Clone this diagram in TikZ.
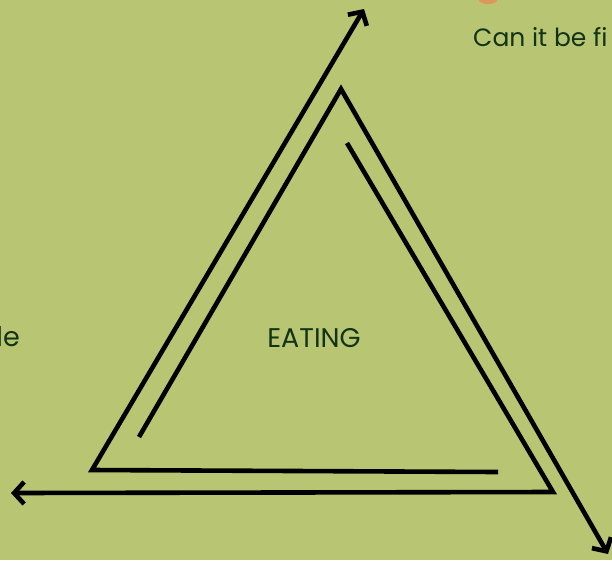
\documentclass[tikz,border=0pt]{standalone}
\usepackage{fontspec}
\setmainfont{Poppins}
\usetikzlibrary{arrows.meta}
\definecolor{bg}{RGB}{184,197,114}
\definecolor{txt}{RGB}{18,52,20}
\definecolor{blob}{RGB}{222,150,90}
\begin{document}
\begin{tikzpicture}[x=1pt,y=-1pt,
  cyc/.style={line width=4.6pt, line join=miter, -{Straight Barb[length=10pt,width=22pt,line width=4.6pt]}},
  lbl/.style={text=txt, font=\fontsize{27}{32}\selectfont, inner sep=0pt}]
\fill[bg] (0,0) rectangle (612,560);
\useasboundingbox (0,0) rectangle (612,560);
\begin{scope}
\clip (0,0) rectangle (612,560);
\fill[blob] (488,0) ellipse (9pt and 4pt);
\end{scope}
% corner coordinates
\coordinate (a0) at (139,437);
\coordinate (apex) at (341,89);
\coordinate (a1) at (608,554);
\coordinate (b0) at (347,143);
\coordinate (br) at (553,492);
\coordinate (b1) at (11,493);
\coordinate (c0) at (498,472);
\coordinate (bl) at (92,470);
\coordinate (c1) at (364,9);
\draw[cyc] (a0) -- (apex) -- (a1);
\draw[cyc] (b0) -- (br) -- (b1);
\draw[cyc] (c0) -- (bl) -- (c1);
\node[lbl, anchor=base] (eat) at (314,347) {EATING};
\node[lbl, anchor=base west, font=\fontsize{25}{30}\selectfont] (can) at (473,46) {Can it be fi};
\node[lbl, anchor=base east] (le) at (20,346) {le};
\end{tikzpicture}
\end{document}
